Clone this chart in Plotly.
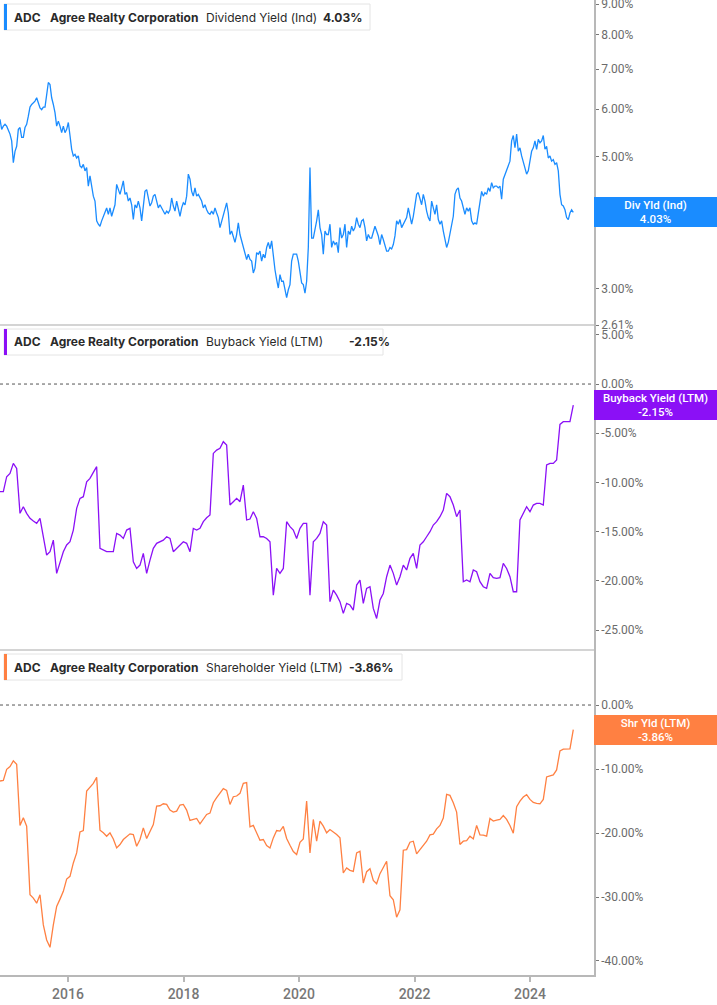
import numpy as np
import pandas as pd
import plotly.graph_objects as go

# ---------------- data ----------------
# dividend yield, read on a ~3-week grid ...
div_yield_grid = [
    5.77, 5.62, 5.62, 5.45, 4.88, 5.20, 5.59, 5.38, 5.66, 6.05,
    6.15, 6.27, 6.03, 6.05, 6.43, 6.60, 6.11, 5.62, 5.62, 5.62,
    5.55, 5.42, 5.01, 4.97, 4.82, 4.85, 4.79, 4.64, 4.29, 3.90,
    3.82, 3.97, 4.10, 4.10, 4.05, 4.49, 4.32, 4.55, 4.35, 4.26,
    3.92, 4.10, 4.10, 4.10, 4.40, 4.13, 4.29, 4.18, 4.15, 4.05,
    4.05, 4.07, 4.13, 4.21, 3.97, 4.18, 4.29, 4.58, 4.29, 4.29,
    4.26, 4.10, 4.07, 4.00, 4.00, 4.02, 3.80, 4.00, 4.18, 3.70,
    3.68, 3.70, 3.70, 3.52, 3.36, 3.36, 3.19, 3.45, 3.47, 3.43,
    3.52, 3.50, 3.38, 3.11, 3.17, 3.09, 2.90,
    3.05, 3.43, 3.43, 3.17, 3.05, 3.09, 4.79, 3.65, 3.90, 3.80,
    3.43, 3.70, 3.85, 3.61, 3.59, 3.80, 3.70, 3.52, 3.70, 3.75,
    3.95, 3.80, 3.92, 3.61, 3.65, 3.72, 3.75, 3.56, 3.63, 3.47,
    3.52, 3.56, 3.90, 3.92, 3.85, 3.95, 3.95, 3.97, 4.32, 4.26,
    4.32, 4.05, 3.90, 4.10, 4.15, 3.85, 3.75, 3.52, 3.70, 3.97,
    4.40, 4.26, 4.10, 4.10, 4.10, 3.85, 3.85, 4.15, 4.29, 4.32,
    4.37, 4.43, 4.46, 4.46, 4.58, 4.73, 4.91, 5.42, 5.45, 5.17,
    4.88, 4.67, 4.91, 5.17, 5.14, 5.27, 5.42, 5.20, 5.01, 4.94,
    4.88, 4.32, 4.13, 3.95, 4.02, 4.03,
]
# ... and half-way between those grid dates
div_yield_mid = [
    5.55, 5.66, 5.55, 5.31, 5.10, 5.55, 5.38, 5.59, 5.84, 6.11,
    6.19, 6.15, 5.99, 6.05, 6.65, 6.27, 5.92, 5.73, 5.48, 5.48,
    5.70, 5.14, 5.04, 5.01, 4.79, 4.73, 4.46, 4.43, 4.21, 3.85,
    3.90, 4.02, 4.00, 3.97, 4.15, 4.40, 4.43, 4.32, 4.21, 4.15,
    4.15, 4.21, 3.90, 4.37, 4.26, 4.18, 4.32, 4.10, 4.10, 4.00,
    4.02, 4.26, 4.05, 4.10, 4.10, 4.15, 4.67, 4.37, 4.43, 4.32,
    4.21, 4.15, 4.02, 4.05, 4.10, 3.95, 3.90, 4.10, 4.02, 3.75,
    3.59, 3.87, 3.61, 3.43, 3.43, 3.34, 3.25, 3.43, 3.34, 3.38,
    3.59, 3.61, 3.23, 3.01, 3.09, 3.01, 2.99,
    3.34, 3.43, 3.34, 3.07, 2.95, 3.52, 3.65, 3.75, 4.07, 3.70,
    3.75, 3.70, 3.52, 3.56, 3.45, 3.65, 3.85, 3.75, 3.82, 3.80,
    3.85, 3.90, 3.80, 3.70, 3.65, 3.82, 3.68, 3.70, 3.56, 3.47,
    3.50, 3.68, 3.85, 3.80, 3.90, 4.10, 3.85, 4.15, 4.35, 4.15,
    4.21, 3.95, 4.21, 4.00, 3.92, 3.90, 3.61, 3.59, 3.80, 4.32,
    4.43, 4.21, 4.00, 4.05, 3.90, 3.87, 4.02, 4.37, 4.35, 4.43,
    4.52, 4.46, 4.43, 4.24, 4.67, 4.82, 5.31, 5.17, 5.10, 5.01,
    4.76, 4.73, 5.10, 5.31, 5.34, 5.31, 5.14, 4.97, 4.91, 4.85,
    4.73, 4.15, 4.07, 3.92, 4.07,
]

buyback_yield = [
    -10.94, -10.94, -9.42, -9.08, -8.06, -8.57, -13.14, -12.47, -13.14, -13.65,
    -13.92, -14.16, -13.65, -15.75, -17.38, -17.04, -15.86, -19.24, -18.23, -17.04,
    -16.36, -16.03, -14.84, -12.64, -11.62, -11.45, -9.93, -9.59, -8.98, -8.40,
    -16.70, -16.87, -17.04, -17.04, -17.04, -15.18, -15.35, -15.69, -14.84, -14.67,
    -18.06, -18.74, -18.40, -17.21, -19.24, -17.89, -16.70, -16.19, -16.03, -15.86,
    -15.52, -15.69, -17.04, -16.70, -16.36, -16.03, -16.19, -17.04, -14.67, -14.84,
    -14.67, -13.99, -13.59, -13.31, -7.05, -6.71, -6.54, -5.86, -6.20, -12.30,
    -11.96, -11.62, -11.96, -10.27, -13.82, -13.72, -12.98, -13.65, -15.52, -15.52,
    -15.69, -16.03, -21.45, -18.74, -19.24, -18.74, -13.99,
    -14.50, -14.84, -15.69, -14.67, -14.16, -14.16, -21.45, -16.03, -15.69, -15.18,
    -13.99, -14.33, -22.12, -20.94, -21.45, -22.12, -23.31, -22.29, -22.46, -22.97,
    -20.43, -19.92, -22.29, -20.77, -20.60, -22.80, -23.82, -21.95, -21.28, -19.58,
    -18.40, -19.24, -20.43, -19.58, -18.40, -18.90, -17.72, -17.21, -18.74, -16.36,
    -16.03, -15.52, -15.01, -14.33, -13.99, -13.48, -12.81, -11.11, -11.45, -12.30,
    -13.48, -12.81, -20.09, -19.92, -20.09, -18.90, -19.07, -20.09, -20.60, -20.77,
    -19.24, -19.68, -19.75, -19.68, -18.23, -18.74, -19.58, -21.11, -21.11, -13.82,
    -13.14, -12.47, -12.98, -12.30, -12.13, -12.13, -12.30, -8.23, -8.06, -8.06,
    -7.72, -4.10, -3.83, -3.83, -3.83, -2.15,
]

shareholder_yield = [
    -11.87, -11.77, -10.04, -9.62, -8.73, -9.25, -18.82, -17.62, -18.93, -29.65,
    -30.17, -30.96, -29.65, -34.36, -36.71, -37.86, -34.36, -31.48, -30.33, -29.12,
    -27.19, -26.77, -24.68, -23.11, -19.82, -19.61, -13.44, -12.81, -12.24, -11.29,
    -19.56, -19.97, -20.50, -19.97, -20.92, -22.33, -21.80, -21.02, -20.60, -20.13,
    -20.24, -22.07, -21.02, -19.19, -20.86, -19.71, -18.67, -15.79, -15.74, -15.43,
    -15.53, -16.42, -16.73, -16.58, -15.63, -15.53, -16.42, -18.04, -17.83, -17.73,
    -18.56, -17.78, -17.10, -16.89, -15.27, -14.48, -13.86, -13.07, -13.33, -15.53,
    -14.33, -14.22, -13.80, -12.24, -12.13, -19.03, -18.82, -19.97, -21.12, -21.02,
    -21.96, -22.33, -20.76, -19.61, -19.71, -18.98, -20.86, -21.91, -22.90, -23.37,
    -21.44, -20.92, -15.01, -23.11, -17.88, -21.28, -18.14, -18.93, -19.97, -19.45,
    -19.82, -20.24, -20.76, -26.25, -25.47, -25.83, -25.99, -23.11, -22.85, -27.82,
    -26.04, -25.57, -27.40, -27.92, -26.35, -25.31, -24.42, -29.80, -30.43, -33.15,
    -32.00, -22.69, -22.59, -21.44, -21.28, -23.27, -22.59, -22.01, -21.28, -20.29,
    -20.18, -19.35, -18.82, -17.67, -13.96, -14.12, -15.27, -16.73, -21.80, -21.28,
    -21.18, -20.50, -20.92, -18.82, -20.29, -20.34, -20.50, -17.73, -18.14, -17.99,
    -17.88, -17.26, -17.88, -18.82, -20.03, -15.90, -15.01, -14.38, -14.01, -14.75,
    -15.22, -15.37, -15.43, -14.75, -11.24, -11.09, -10.93, -10.14, -7.16, -6.90,
    -6.85, -6.85, -3.86,
]

START, END = "2014-10-28", "2024-10-01"
assert len(div_yield_grid) == len(buyback_yield) == len(shareholder_yield) == len(div_yield_mid) + 1

# interleave the two dividend-yield readings into one series
dividend_yield = []
for i, g in enumerate(div_yield_grid):
    dividend_yield.append(g)
    if i < len(div_yield_mid):
        dividend_yield.append(div_yield_mid[i])
dates_div = pd.date_range(START, END, periods=len(dividend_yield))
dates = pd.date_range(START, END, periods=len(buyback_yield))

x_tick_years = ["2016", "2018", "2020", "2022", "2024"]
div_ticks = [2.61, 3, 4, 5, 6, 7, 8, 9]
buy_ticks = [5, 0, -5, -10, -15, -20, -25]
shr_ticks = [0, -10, -20, -30, -40]

ticker = "ADC"
company = "Agree Realty Corporation"
series_names = ["Dividend Yield (Ind)", "Buyback Yield (LTM)", "Shareholder Yield (LTM)"]
badge_names = ["Div Yld (Ind)", "Buyback Yield (LTM)", "Shr Yld (LTM)"]

# ---------------- styling / layout ----------------
W, H = 717, 1005
ML, MR, MT, MB = 0, 123, 0, 30
PW, PH = W - ML - MR, H - MT - MB

def fx(p):
    return p / PW

def fy(p):
    return 1 - p / PH

BLUE = "#1a8cff"
PURPLE = "#8b10f6"
ORANGE = "#ff8042"
colors = [BLUE, PURPLE, ORANGE]
AXIS = "#b8b8b8"
TICKFONT = dict(family="Roboto", size=12, color="#6b6b6b")

fig = go.Figure()
for xs, vals, col, ya in zip([dates_div, dates, dates],
                             [dividend_yield, buyback_yield, shareholder_yield],
                             colors, ["y", "y2", "y3"]):
    fig.add_trace(go.Scatter(x=xs, y=vals, mode="lines", xaxis="x", yaxis=ya,
                             line=dict(color=col, width=1.3), hoverinfo="skip"))

def pct(v):
    return f"{v:.2f}%"

common_y = dict(side="right", anchor="x", showline=True, linecolor=AXIS, linewidth=1.5,
                ticks="outside", ticklen=3, tickcolor="#777", tickwidth=1,
                showgrid=False, zeroline=False, tickfont=TICKFONT,
                ticklabeloverflow="allow", automargin=False)

fig.update_layout(
    width=W, height=H,
    margin=dict(l=ML, r=MR, t=MT, b=MB, pad=0, autoexpand=False),
    paper_bgcolor="white", plot_bgcolor="white",
    showlegend=False,
    xaxis=dict(domain=[0, 1], anchor="y3", type="date", automargin=False,
               range=["2014-10-28", "2025-02-09"],
               tickvals=[f"{y}-01-01" for y in x_tick_years], ticktext=x_tick_years,
               showline=True, linecolor=AXIS, linewidth=1.5,
               ticks="outside", ticklen=5, tickcolor=AXIS, tickwidth=1.5,
               showgrid=False, zeroline=False,
               tickfont=dict(family="Roboto", size=14, color="#777", weight=500)),
    yaxis=dict(domain=[fy(325), 1], type="log",
               range=[np.log10(2.61), np.log10(2.61) + 325 / 597],
               tickvals=div_ticks, ticktext=[pct(v) for v in div_ticks], **common_y),
    yaxis2=dict(domain=[fy(650), fy(325)], range=[-27.03, 6.0],
                tickvals=buy_ticks, ticktext=[pct(v) for v in buy_ticks], **common_y),
    yaxis3=dict(domain=[0, fy(650)], range=[-42.19, 8.6],
                tickvals=shr_ticks, ticktext=[pct(v) for v in shr_ticks], **common_y),
)

shapes = []
# panel separators
for yy in (325, 650):
    shapes.append(dict(type="line", xref="paper", yref="paper", x0=0, x1=1, y0=fy(yy), y1=fy(yy),
                       line=dict(color="#c6c6c6", width=1.5), layer="above"))
# dotted zero lines
for ya in ("y2", "y3"):
    shapes.append(dict(type="line", xref="paper", yref=ya, x0=0, x1=1, y0=0, y1=0,
                       line=dict(color="#555", width=1, dash="dot"), layer="below"))

annotations = []
last_vals = [dividend_yield[-1], buyback_yield[-1], shareholder_yield[-1]]
box_tops = [4, 329, 654]
box_rights = [370, 383, 402]
value_x = [322, 348, 348]
for i in range(3):
    top = box_tops[i]
    bot = top + 26
    shapes.append(dict(type="rect", xref="paper", yref="paper", x0=fx(4), x1=fx(box_rights[i]),
                       y0=fy(bot), y1=fy(top), fillcolor="white",
                       line=dict(color="#e4e4e4", width=1), layer="above"))
    shapes.append(dict(type="rect", xref="paper", yref="paper", x0=fx(4), x1=fx(7),
                       y0=fy(bot), y1=fy(top), fillcolor=colors[i],
                       line=dict(width=0), layer="above"))
    cy = fy((top + bot) / 2)
    parts = [(13, f"<b>{ticker}</b>"), (49, f"<b>{company}</b>"),
             (205, series_names[i]), (value_x[i], f"<b>{pct(last_vals[i])}</b>")]
    for px_, txt in parts:
        annotations.append(dict(xref="paper", yref="paper", x=fx(px_), y=cy, text=txt,
                                showarrow=False, xanchor="left", yanchor="middle", borderpad=0,
                                font=dict(family="Inter", size=12, color="#2a2a2a")))
    # value badge on the right axis
    yval = np.log10(last_vals[i]) if i == 0 else last_vals[i]
    annotations.append(dict(xref="paper", yref=["y", "y2", "y3"][i], x=1, y=yval,
                            xanchor="left", yanchor="middle", showarrow=False,
                            text=f"{badge_names[i]}<br>{pct(last_vals[i])}",
                            bgcolor=colors[i], width=123, height=30, borderpad=0, borderwidth=0,
                            align="center",
                            font=dict(family="Roboto", size=11.5, color="white", weight=500)))

fig.update_layout(shapes=shapes, annotations=annotations)

fig.write_html("out.html", config={"displayModeBar": False},
               post_script="document.body.style.margin='0';")
